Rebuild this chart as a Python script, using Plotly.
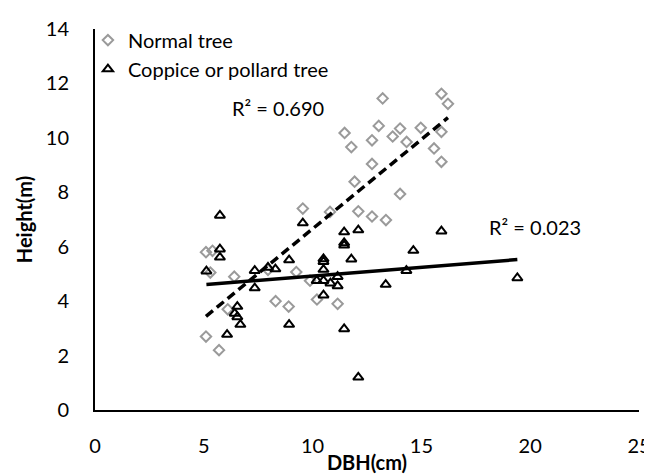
import numpy as np
import plotly.graph_objects as go

normal_dbh = [5.1, 5.7, 5.1, 5.4, 5.3, 6.1, 6.4, 7.95, 8.3, 8.9, 9.25, 9.55, 9.88, 10.2,
              10.8, 11.15, 11.47, 11.78, 11.93, 12.1, 12.73, 12.73, 12.73, 13.04, 13.22,
              13.37, 13.68, 14.02, 14.02, 14.32, 14.97, 15.58, 15.92, 16.22, 15.92, 15.92]
normal_h = [2.7, 2.2, 5.8, 5.85, 5.05, 3.7, 4.9, 5.15, 4.0, 3.8, 5.07, 7.4, 4.75, 4.06,
            7.28, 3.9, 10.18, 9.66, 8.39, 7.3, 9.91, 9.04, 7.11, 10.44, 11.45,
            6.98, 10.05, 10.34, 7.94, 9.85, 10.37, 9.61, 11.62, 11.25, 10.22, 9.12]

coppice_dbh = [5.12, 5.74, 5.74, 5.74, 6.07, 6.54, 6.42, 6.54, 6.68, 7.34, 7.34, 7.95,
               8.29, 8.92, 8.92, 9.55, 10.5, 10.5, 10.5, 10.19, 10.5, 10.82, 11.15, 11.15,
               10.5, 11.45, 11.45, 11.45, 11.45, 11.78, 12.1, 12.1, 13.36, 14.31, 14.63,
               15.92, 19.41]
coppice_h = [5.1, 7.15, 5.91, 5.61, 2.77, 3.8, 3.55, 3.42, 3.14, 5.12, 4.48, 5.24,
             5.18, 5.51, 3.14, 6.87, 5.55, 5.45, 5.16, 4.75, 4.75, 4.66, 4.9, 4.56,
             4.22, 6.54, 6.14, 6.05, 2.98, 5.54, 6.61, 1.2, 4.61, 5.12, 5.86,
             6.57, 4.85]

x_ticks = [0, 5, 10, 15, 20, 25]
y_ticks = [0, 2, 4, 6, 8, 10, 12, 14]
r2_labels = ["R² = 0.690", "R² = 0.023"]

FONT = "Lato, 'Open Sans', sans-serif"
FS = 20


def fit_line(xs, ys):
    xs = np.asarray(xs); ys = np.asarray(ys)
    m, b = np.polyfit(xs, ys, 1)
    xx = np.array([xs.min(), xs.max()])
    return xx, m * xx + b


fig = go.Figure()
fig.add_trace(go.Scatter(
    x=normal_dbh, y=normal_h, mode="markers", name="Normal tree",
    marker=dict(symbol="diamond-open", size=8, color="#9A9A9A", line=dict(width=2, color="#9A9A9A")),
))
fig.add_trace(go.Scatter(
    x=coppice_dbh, y=coppice_h, mode="markers", name="Coppice or pollard tree",
    marker=dict(symbol="triangle-up-open", size=9, color="black", line=dict(width=2, color="black")),
))

nx, ny = fit_line(normal_dbh, normal_h)
fig.add_trace(go.Scatter(x=nx, y=ny, mode="lines", showlegend=False,
                         line=dict(color="black", width=3.5, dash="9px,5px")))
cx, cy = fit_line(coppice_dbh, coppice_h)
fig.add_trace(go.Scatter(x=cx, y=cy, mode="lines", showlegend=False,
                         line=dict(color="black", width=3.5)))

fig.add_annotation(x=8.41, y=11.1, text=r2_labels[0], showarrow=False,
                   font=dict(size=FS, color="black", family=FONT))
fig.add_annotation(x=20.22, y=6.73, text=r2_labels[1], showarrow=False,
                   font=dict(size=FS, color="black", family=FONT))

fig.update_layout(
    width=652, height=474,
    margin=dict(l=87, r=21, t=21, b=72),
    paper_bgcolor="white", plot_bgcolor="white",
    font=dict(family=FONT, size=FS, color="black"),
    legend=dict(x=-0.013, y=1.022, xanchor="left", yanchor="top",
                bgcolor="rgba(0,0,0,0)", font=dict(size=FS), tracegroupgap=0,
                itemwidth=30),
    xaxis=dict(range=[0, 25], tickvals=x_ticks, showgrid=False, zeroline=False,
               showline=True, linecolor="black", linewidth=2,
               ticks="outside", ticklen=17, tickcolor="rgba(0,0,0,0)",
               automargin=False,
               title=dict(text="<b>DBH(cm)</b>", standoff=0, font=dict(size=FS))),
    yaxis=dict(range=[0, 14], tickvals=y_ticks, showgrid=False, zeroline=False,
               showline=True, linecolor="black", linewidth=2,
               ticks="outside", ticklen=20, tickcolor="rgba(0,0,0,0)",
               automargin=False,
               title=dict(text="<b>Height(m)</b>", standoff=8, font=dict(size=FS))),
)

fig.write_html("out.html")
